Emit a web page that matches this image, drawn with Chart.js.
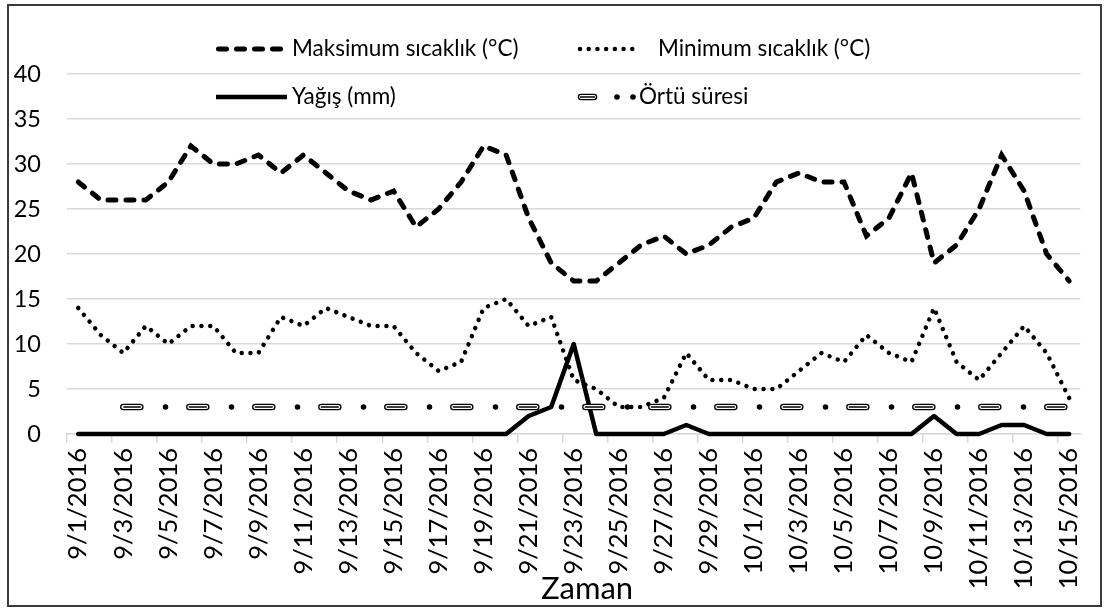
<!DOCTYPE html>
<html><head><meta charset="utf-8">
<script src="https://cdn.jsdelivr.net/npm/chart.js@4.4.1/dist/chart.umd.min.js"></script>
<style>html,body{margin:0;padding:0;background:#fff;} #wrap{width:1105px;height:611px;position:relative;}</style>
</head><body><div id="wrap"><canvas id="c" width="1105" height="611"></canvas></div>
<script>
const labels = ['9/1/2016','9/2/2016','9/3/2016','9/4/2016','9/5/2016','9/6/2016','9/7/2016','9/8/2016','9/9/2016','9/10/2016',
  '9/11/2016','9/12/2016','9/13/2016','9/14/2016','9/15/2016','9/16/2016','9/17/2016','9/18/2016','9/19/2016','9/20/2016',
  '9/21/2016','9/22/2016','9/23/2016','9/24/2016','9/25/2016','9/26/2016','9/27/2016','9/28/2016','9/29/2016','9/30/2016',
  '10/1/2016','10/2/2016','10/3/2016','10/4/2016','10/5/2016','10/6/2016','10/7/2016','10/8/2016','10/9/2016','10/10/2016',
  '10/11/2016','10/12/2016','10/13/2016','10/14/2016','10/15/2016'];
const maxTemp = [28,26,26,26,28,32,30,30,31,29, 31,29,27,26,27,23,25,28,32,31, 24,19,17,17,19,21,22,20,21,23, 24,28,29,28,28,22,24,29,19,21, 25,31,27,20,17];
const minTemp = [14,11,9,12,10,12,12,9,9,13, 12,14,13,12,12,9,7,8,14,15, 12,13,6,5,3,3,4,9,6,6, 5,5,7,9,8,11,9,8,14,8, 6,9,12,9,4];
const rain    = [0,0,0,0,0,0,0,0,0,0, 0,0,0,0,0,0,0,0,0,0, 2,3,10,0,0,0,0,1,0,0, 0,0,0,0,0,0,0,0,2,0, 0,1,1,0,0];
const cover   = [null,null,3,3,3,3,3,3,3,3, 3,3,3,3,3,3,3,3,3,3, 3,3,3,3,3,3,3,3,3,3, 3,3,3,3,3,3,3,3,3,3, 3,3,3,3,3];
const seriesNames = ['Maksimum sıcaklık (°C)','Minimum sıcaklık (°C)','Yağış (mm)','Örtü süresi'];
const xTitle = 'Zaman';
const yMin = 0, yMax = 40, yStep = 5;

const FONT = 'Lato';
const GRID = '#d9d9d9';

const framePlugin = {
  id: 'frame',
  beforeDraw(chart) {
    const ctx = chart.ctx;
    ctx.save();
    ctx.fillStyle = '#fff';
    ctx.fillRect(0, 0, chart.width, chart.height);
    ctx.restore();
  },
  afterDraw(chart) {
    const ctx = chart.ctx;
    ctx.save();
    ctx.strokeStyle = '#3a3a3a';
    ctx.lineWidth = 2;
    ctx.strokeRect(8, 5, 1093, 601);
    // x axis title
    ctx.fillStyle = '#000';
    ctx.font = '31px ' + FONT;
    ctx.textAlign = 'center';
    ctx.textBaseline = 'middle';
    ctx.fillText(xTitle, 587, 589);
    ctx.restore();
  }
};

const legendPlugin = {
  id: 'customLegend',
  afterDraw(chart) {
    const ctx = chart.ctx;
    const seg = (x1, y1, x2, y2) => { ctx.beginPath(); ctx.moveTo(x1, y1); ctx.lineTo(x2, y2); ctx.stroke(); };
    ctx.save();
    ctx.font = '22.5px ' + FONT;
    ctx.fillStyle = '#000';
    ctx.strokeStyle = '#000';
    ctx.textBaseline = 'middle';
    ctx.textAlign = 'left';
    const r1 = 49, r2 = 97;
    // Max (dashed)
    ctx.lineCap = 'round'; ctx.lineWidth = 5; ctx.setLineDash([8, 10]);
    seg(218.5, r1, 287, r1);
    ctx.fillText(seriesNames[0], 292, r1);
    // Min (dotted)
    ctx.lineWidth = 4.5; ctx.setLineDash([0.01, 8.7]);
    seg(580, r1, 633, r1);
    ctx.fillText(seriesNames[1], 658, r1);
    // Rain (solid)
    ctx.setLineDash([]); ctx.lineCap = 'butt'; ctx.lineWidth = 4.5;
    seg(216, r2, 287, r2);
    ctx.fillText(seriesNames[2], 292, r2);
    // Cover (double dash + dots)
    ctx.lineCap = 'round';
    ctx.lineWidth = 6.5; ctx.strokeStyle = '#000'; seg(581, r2, 594, r2);
    ctx.lineWidth = 3.8; ctx.strokeStyle = '#fff'; seg(581, r2, 594, r2);
    ctx.lineCap = 'butt'; ctx.lineWidth = 1.5; ctx.strokeStyle = '#000'; seg(580, r2, 595, r2);
    ctx.fillStyle = '#000';
    ctx.beginPath(); ctx.arc(617, r2, 2.8, 0, Math.PI * 2); ctx.fill();
    ctx.beginPath(); ctx.arc(633, r2, 2.8, 0, Math.PI * 2); ctx.fill();
    ctx.fillText(seriesNames[3], 639, r2);
    ctx.restore();
  }
};

const base = { pointRadius: 0, pointHoverRadius: 0, tension: 0, fill: false, clip: false, spanGaps: false };

new Chart(document.getElementById('c'), {
  type: 'line',
  data: {
    labels: labels,
    datasets: [
      Object.assign({}, base, { label: seriesNames[0], data: maxTemp, borderColor: '#000', borderWidth: 5, borderDash: [8, 10], borderCapStyle: 'round', order: 7 }),
      Object.assign({}, base, { label: seriesNames[1], data: minTemp, borderColor: '#000', borderWidth: 4.5, borderDash: [0.01, 8.8], borderCapStyle: 'round', order: 6 }),
      Object.assign({}, base, { label: seriesNames[2], data: rain, borderColor: '#000', borderWidth: 4.5, borderCapStyle: 'round', borderJoinStyle: 'round', order: 5 }),
      Object.assign({}, base, { label: seriesNames[3], data: cover, borderColor: '#000', borderWidth: 6.5, borderDash: [17, 49], borderCapStyle: 'round', order: 4 }),
      Object.assign({}, base, { label: seriesNames[3] + ' (iç)', data: cover, borderColor: '#fff', borderWidth: 3.8, borderDash: [17, 49], borderCapStyle: 'round', order: 3 }),
      Object.assign({}, base, { label: seriesNames[3] + ' (orta)', data: cover, borderColor: '#000', borderWidth: 1.5, borderDash: [18, 48], borderDashOffset: 0.5, borderCapStyle: 'butt', order: 2 }),
      Object.assign({}, base, { label: seriesNames[3] + ' (nokta)', data: cover, borderColor: '#000', borderWidth: 5.5, borderDash: [0.01, 65.99], borderDashOffset: 23.8, borderCapStyle: 'round', order: 1 })
    ]
  },
  options: {
    responsive: false,
    animation: false,
    devicePixelRatio: 1,
    layout: { padding: { left: 10, right: 21, top: 74, bottom: 0 } },
    plugins: { legend: { display: false }, tooltip: { enabled: false } },
    events: [],
    scales: {
      x: {
        type: 'category',
        offset: true,
        afterFit: (s) => { s.height = 177; },
        grid: {
          display: true, drawOnChartArea: false, drawTicks: true, tickLength: 9, offset: true,
          color: (c) => (c.index !== undefined && c.index % 2 === 0) ? GRID : 'rgba(0,0,0,0)',
          lineWidth: 1.5
        },
        border: { display: true, color: GRID, width: 1.5 },
        ticks: {
          autoSkip: false, minRotation: 90, maxRotation: 90, padding: 5,
          color: '#000', font: { family: FONT, size: 25.5 },
          callback: (v, i) => (i % 2 === 0 ? labels[i] : '')
        },
        title: { display: false, text: xTitle }
      },
      y: {
        min: yMin, max: yMax,
        afterFit: (s) => { s.width = 57; },
        grid: { color: GRID, lineWidth: 1.5, drawTicks: false },
        border: { display: false },
        ticks: { stepSize: yStep, padding: 26, color: '#000', font: { family: FONT, size: 23.5 } }
      }
    }
  },
  plugins: [framePlugin, legendPlugin]
});
</script>
</body></html>
